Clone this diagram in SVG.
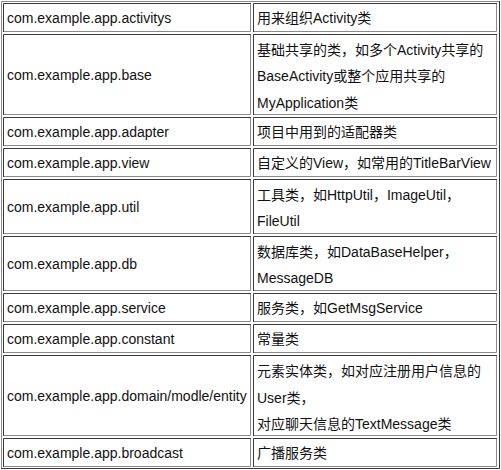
<svg xmlns="http://www.w3.org/2000/svg" width="501" height="470" viewBox="0 0 501 470">
<style>
.bg{fill:#ffffff}
.d{fill:none;stroke:#3a3a3a;stroke-width:1}
.g{fill:none;stroke:#8a8a8a;stroke-width:1}
text{font-family:'Liberation Sans','Noto Sans CJK SC',sans-serif;font-size:14px;fill:#111111}
</style>
<rect class="bg" x="0" y="0" width="501" height="470"/>
<g id="table-border">
<path class="g" d="M1.5,469 V1.5 H500"/>
<path class="d" d="M499.5,1 V468.5 H1"/>
</g>
<g id="connectors"></g>
<g id="row1">
<path class="d" d="M3.5,32 V3.5 H251"/><path class="g" d="M250.5,4 V31.5 H4"/>
<path class="d" d="M253.5,32 V3.5 H497"/><path class="g" d="M496.5,4 V31.5 H254"/>
<text x="7" y="22.5">com.example.app.activitys</text>
<text x="257" y="22.5">用来组织Activity类</text>
</g>
<g id="row2">
<path class="d" d="M3.5,115 V34.5 H251"/><path class="g" d="M250.5,35 V114.5 H4"/>
<path class="d" d="M253.5,115 V34.5 H497"/><path class="g" d="M496.5,35 V114.5 H254"/>
<text x="7" y="79.5">com.example.app.base</text>
<text x="257" y="54.5">基础共享的类，如多个Activity共享的</text>
<text x="257" y="81">BaseActivity或整个应用共享的</text>
<text x="257" y="107.5">MyApplication类</text>
</g>
<g id="row3">
<path class="d" d="M3.5,146 V117.5 H251"/><path class="g" d="M250.5,118 V145.5 H4"/>
<path class="d" d="M253.5,146 V117.5 H497"/><path class="g" d="M496.5,118 V145.5 H254"/>
<text x="7" y="136.5">com.example.app.adapter</text>
<text x="257" y="136.5">项目中用到的适配器类</text>
</g>
<g id="row4">
<path class="d" d="M3.5,177 V148.5 H251"/><path class="g" d="M250.5,149 V176.5 H4"/>
<path class="d" d="M253.5,177 V148.5 H497"/><path class="g" d="M496.5,149 V176.5 H254"/>
<text x="7" y="167.5">com.example.app.view</text>
<text x="257" y="167.5">自定义的View，如常用的TitleBarView</text>
</g>
<g id="row5">
<path class="d" d="M3.5,234 V179.5 H251"/><path class="g" d="M250.5,180 V233.5 H4"/>
<path class="d" d="M253.5,234 V179.5 H497"/><path class="g" d="M496.5,180 V233.5 H254"/>
<text x="7" y="211.5">com.example.app.util</text>
<text x="257" y="199.5">工具类，如HttpUtil，ImageUtil，</text>
<text x="257" y="226">FileUtil</text>
</g>
<g id="row6">
<path class="d" d="M3.5,291 V236.5 H251"/><path class="g" d="M250.5,237 V290.5 H4"/>
<path class="d" d="M253.5,291 V236.5 H497"/><path class="g" d="M496.5,237 V290.5 H254"/>
<text x="7" y="268.5">com.example.app.db</text>
<text x="257" y="256.5">数据库类，如DataBaseHelper，</text>
<text x="257" y="283">MessageDB</text>
</g>
<g id="row7">
<path class="d" d="M3.5,322 V293.5 H251"/><path class="g" d="M250.5,294 V321.5 H4"/>
<path class="d" d="M253.5,322 V293.5 H497"/><path class="g" d="M496.5,294 V321.5 H254"/>
<text x="7" y="312.5">com.example.app.service</text>
<text x="257" y="312.5">服务类，如GetMsgService</text>
</g>
<g id="row8">
<path class="d" d="M3.5,353 V324.5 H251"/><path class="g" d="M250.5,325 V352.5 H4"/>
<path class="d" d="M253.5,353 V324.5 H497"/><path class="g" d="M496.5,325 V352.5 H254"/>
<text x="7" y="343.5">com.example.app.constant</text>
<text x="257" y="343.5">常量类</text>
</g>
<g id="row9">
<path class="d" d="M3.5,436 V355.5 H251"/><path class="g" d="M250.5,356 V435.5 H4"/>
<path class="d" d="M253.5,436 V355.5 H497"/><path class="g" d="M496.5,356 V435.5 H254"/>
<text x="7" y="400.5">com.example.app.domain/modle/entity</text>
<text x="257" y="376">元素实体类，如对应注册用户信息的</text>
<text x="257" y="402.5">User类，</text>
<text x="257" y="429">对应聊天信息的TextMessage类</text>
</g>
<g id="row10">
<path class="d" d="M3.5,467 V438.5 H251"/><path class="g" d="M250.5,439 V466.5 H4"/>
<path class="d" d="M253.5,467 V438.5 H497"/><path class="g" d="M496.5,439 V466.5 H254"/>
<text x="7" y="457.5">com.example.app.broadcast</text>
<text x="257" y="457.5">广播服务类</text>
</g>
</svg>
